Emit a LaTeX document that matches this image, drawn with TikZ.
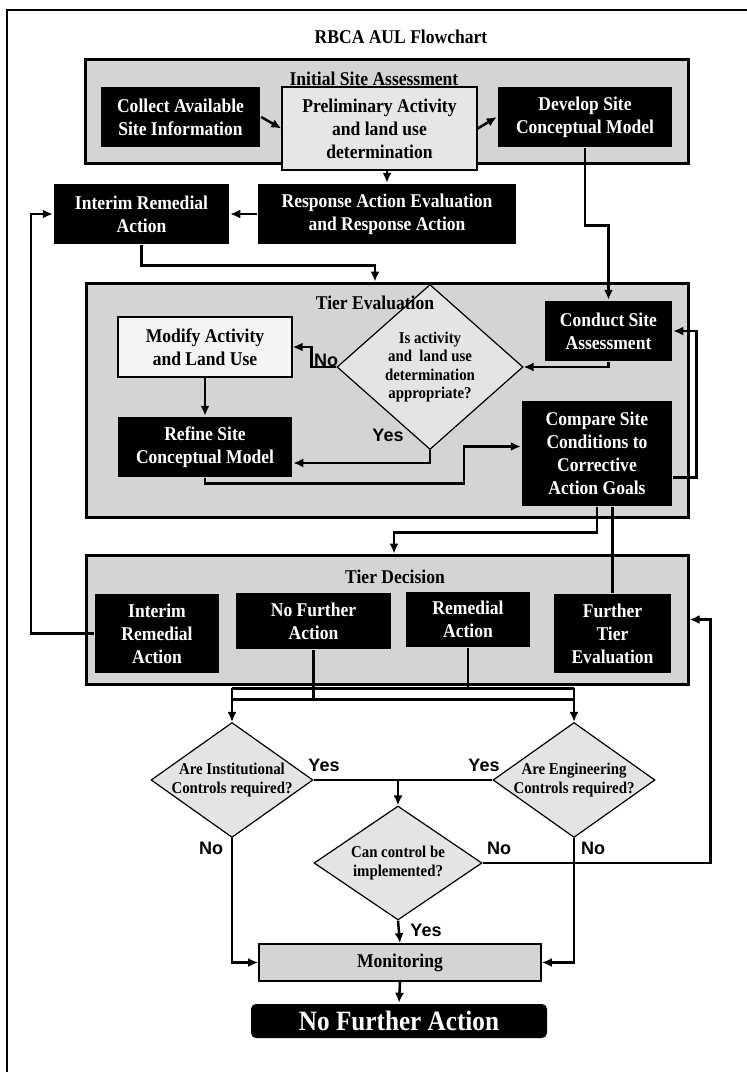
\documentclass[tikz,border=0pt]{standalone}
\usepackage{fontspec}
\setmainfont{Liberation Serif}[FakeStretch=0.9]
\newfontfamily\ynfont{Liberation Sans}
\usepackage{xcolor}
\definecolor{panelgray}{HTML}{D4D4D4}
\definecolor{litegray}{HTML}{E6E6E6}
\definecolor{palegray}{HTML}{F4F4F4}
\definecolor{decgray}{HTML}{E4E4E4}
\newcommand\boxfont{\fontsize{19.5}{23}\selectfont\bfseries}
\newcommand\decfont{\fontsize{16.5}{18.5}\selectfont\bfseries}
\usetikzlibrary{shapes.geometric,arrows.meta,positioning}
\tikzset{
    -{Latex[length=10pt,width=9pt]},x=1pt,y=-1pt,
    panel/.style={rectangle, draw, line width=3pt, fill=panelgray, inner sep=0pt},
    blk/.style={rectangle, fill=black, text=white, align=center, inner sep=0pt, font=\boxfont},
    lite/.style={rectangle, draw, line width=1.4pt, fill=litegray, align=center, inner sep=0pt, font=\boxfont},
    dec/.style={diamond, draw, line width=1.2pt, fill=decgray, align=center, inner sep=-3pt, font=\decfont},
    ttl/.style={inner sep=0pt, font=\boxfont},
    yn/.style={inner sep=0pt, font={\ynfont\fontsize{18}{18}\selectfont\bfseries}},
    plain/.style={-}
}

\begin{document}
\begin{tikzpicture}[line width=2.5pt]
      \useasboundingbox (0,0) rectangle (747,1072);
      \draw[plain, line width=1.8pt] (7,1072) |- (747,10);
      \node[ttl] (title) at (401,37) {RBCA AUL Flowchart};

      % initial site assessment
      \node[panel, minimum width=603pt, minimum height=104pt] (isa) at (386.5,111) {};
      \node[ttl] (isatitle) at (374,79) {Initial Site Assessment};
      \node[blk, minimum width=159pt, minimum height=60pt] (collect) at (180.5,117) {Collect Available\\Site Information};
      \node[lite, minimum width=195pt, minimum height=83pt] (prelim) at (379.5,128.5) {Preliminary Activity\\and land use\\determination};
      \node[blk, minimum width=174pt, minimum height=60pt] (develop) at (585,117) {Develop Site\\Conceptual Model};
      \node[blk, minimum width=175pt, minimum height=60pt] (interim) at (141.5,214) {Interim Remedial\\Action};
      \node[blk, minimum width=258pt, minimum height=60pt] (response) at (387,214) {Response Action Evaluation\\and Response Action};

      % tier evaluation
      \node[panel, minimum width=602pt, minimum height=234pt] (tiereval) at (387,400) {};
      \node[lite, fill=palegray, minimum width=174pt, minimum height=60pt] (modify) at (205,347) {Modify Activity\\and Land Use};
      \node[dec, shape aspect=1.13, minimum width=186pt, minimum height=165pt] (isact) at (430,367) {Is activity\\and~~land use\\determination\\appropriate?};
      \node[ttl] (tetitle) at (375,303) {Tier Evaluation};
      \node[blk, minimum width=127pt, minimum height=60pt] (conduct) at (608.5,331) {Conduct Site\\Assessment};
      \node[blk, minimum width=174pt, minimum height=60pt] (refine) at (205,447) {Refine Site\\Conceptual Model};
      \node[blk, minimum width=150pt, minimum height=105pt] (compare) at (597,453.5) {Compare Site\\Conditions to\\Corrective\\Action Goals};

      % tier decision
      \node[panel, minimum width=602pt, minimum height=129pt] (tierdec) at (387,619.5) {};
      \node[ttl] (tdtitle) at (395,577) {Tier Decision};
      \node[blk, minimum width=124pt, minimum height=79pt] (interimtd) at (157,633.5) {Interim\\Remedial\\Action};
      \node[blk, minimum width=155pt, minimum height=56pt] (nofurther) at (313.5,621) {No Further\\Action};
      \node[blk, minimum width=124pt, minimum height=55pt] (remedial) at (468,619.5) {Remedial\\Action};
      \node[blk, minimum width=117pt, minimum height=79pt] (further) at (612.5,633.5) {Further\\Tier\\Evaluation};

      % controls
      \node[dec, shape aspect=1.41, minimum width=162pt, minimum height=115pt] (inst) at (232,780) {Are Institutional\\Controls required?};
      \node[dec, shape aspect=1.41, minimum width=162pt, minimum height=115pt] (eng) at (574,780) {Are Engineering\\Controls required?};
      \node[dec, shape aspect=1.47, minimum width=168pt, minimum height=114pt] (canctl) at (398,863) {Can control be\\implemented?};
      \node[lite, fill=panelgray, line width=1.8pt, minimum width=282pt, minimum height=37pt] (monitor) at (400,962.5) {Monitoring};
      \node[blk, rounded corners=5pt, minimum width=296pt, minimum height=34pt, font=\fontsize{28}{30}\selectfont\bfseries] (nfa) at (399,1021) {No Further Action};

      \path (collect.east) edge (prelim.west)
            (prelim.east) edge (develop.west)
            (prelim.south -| response.north) edge (response.north)
            (response.west) edge (interim.east);
      \draw (interim.south) -- ++(0,20) -| ([xshift=-12pt]tiereval.north);
      \draw (develop.south) -- ++(0,77) -| (conduct.north);
      \draw (conduct.south) |- (isact.east);
      \draw (isact.west) -- ++(-25,0) |- (modify.east);
      \draw (modify.south) -- (refine.north);
      \draw (isact.south) |- ([yshift=-16pt]refine.east);
      \draw (refine.south) -- ++(0,5) -- ++(259,0) |- ([yshift=7pt]compare.west);
      \draw ([yshift=-24pt]compare.east) -- ++(23,0) |- (conduct.east);
      \draw (compare.south) -- ++(0,25) -| ([xshift=7pt]tierdec.north);
      \draw[plain] (compare.south -| further.north) -- (further.north);
      \draw (interimtd.west) -- ++(-63,0) |- (interim.west);

      \draw[plain] (remedial.south) -- ++(0,40) coordinate (rj);
      \draw[plain] (nofurther.south) -- ++(0,49) coordinate (nj);
      \draw[plain] (rj -| inst.north) -- (rj -| eng.north);
      \draw[plain] (nj -| inst.north) -- (nj -| eng.north);
      \draw (rj -| inst.north) -- (inst.north);
      \draw (rj -| eng.north) -- (eng.north);
      \draw[plain] (inst.east) -- (eng.west);
      \draw (inst.east -| canctl.north) -- (canctl.north);
      \draw (inst.south) |- (monitor.west);
      \draw (eng.south) |- (monitor.east);
      \draw (canctl.south) -- (monitor.north);
      \draw (canctl.east) -- ++(228,0) |- (tierdec.east);
      \draw (monitor.south) -- (nfa.north);

      \node[yn] (no1) at (326,360) {No};
      \node[yn] (yes1) at (388,435) {Yes};
      \node[yn] (yes2) at (324,765) {Yes};
      \node[yn] (yes3) at (484,765) {Yes};
      \node[yn] (no2) at (211,848) {No};
      \node[yn] (no3) at (499,848) {No};
      \node[yn] (no4) at (593,848) {No};
      \node[yn] (yes4) at (426,930) {Yes};
\end{tikzpicture}
\end{document}
